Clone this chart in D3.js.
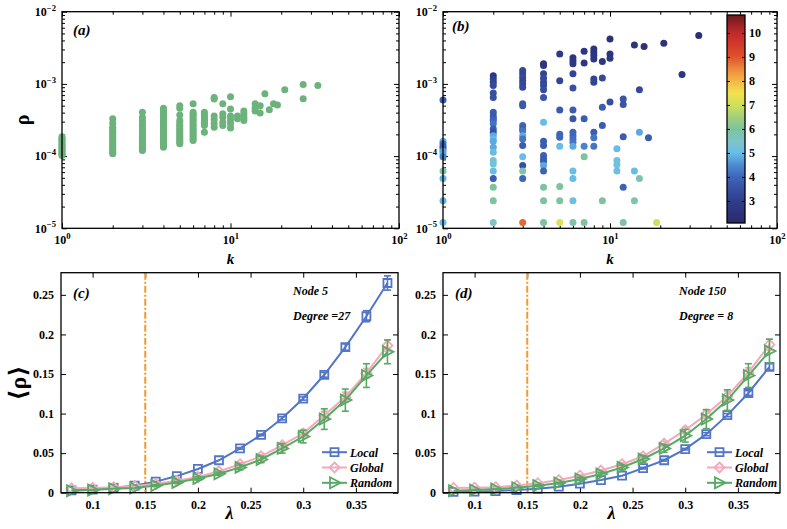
<!DOCTYPE html>
<html>
<head>
<meta charset="utf-8">
<script src="https://cdn.jsdelivr.net/npm/d3@7"></script>
<style>
  body { margin: 0; background: #fff; }
  svg text { font-family: "Liberation Serif", "DejaVu Serif", serif; font-weight: bold; }
</style>
</head>
<body>
<script>
// ---- panel (a): rho against degree k
const aDegrees = [1, 2, 3, 4, 5, 6, 7, 8, 9, 10, 11, 12, 14, 15, 16, 17, 18, 19, 21, 27, 33];
const aRho = [
  [1.02e-4, 1.06e-4, 1.1e-4, 1.15e-4, 1.2e-4, 1.26e-4, 1.32e-4, 1.38e-4, 1.45e-4, 1.52e-4, 1.6e-4, 1.68e-4, 1.76e-4, 1.85e-4],
  [1.08e-4, 1.13e-4, 1.19e-4, 1.25e-4, 1.32e-4, 1.4e-4, 1.48e-4, 1.57e-4, 1.66e-4, 1.76e-4, 1.87e-4, 2.0e-4, 2.12e-4, 2.25e-4, 2.38e-4, 2.5e-4, 2.85e-4, 3.3e-4],
  [1.2e-4, 1.26e-4, 1.33e-4, 1.4e-4, 1.48e-4, 1.56e-4, 1.65e-4, 1.75e-4, 1.86e-4, 1.98e-4, 2.1e-4, 2.24e-4, 2.38e-4, 2.54e-4, 2.7e-4, 2.9e-4, 3.1e-4, 3.45e-4, 4.05e-4],
  [1.33e-4, 1.4e-4, 1.48e-4, 1.56e-4, 1.65e-4, 1.75e-4, 1.86e-4, 1.98e-4, 2.1e-4, 2.24e-4, 2.38e-4, 2.54e-4, 2.7e-4, 2.9e-4, 3.1e-4, 3.3e-4, 3.55e-4, 3.8e-4, 4.1e-4, 4.35e-4, 4.6e-4],
  [1.48e-4, 1.56e-4, 1.65e-4, 1.75e-4, 1.86e-4, 1.98e-4, 2.1e-4, 2.24e-4, 2.38e-4, 2.54e-4, 2.7e-4, 2.9e-4, 3.1e-4, 3.7e-4, 4.6e-4, 5.0e-4],
  [1.64e-4, 1.74e-4, 1.85e-4, 1.97e-4, 2.1e-4, 2.24e-4, 2.38e-4, 2.54e-4, 2.7e-4, 2.9e-4, 3.1e-4, 3.3e-4, 3.55e-4, 3.8e-4, 4.05e-4, 5.3e-4],
  [2.14e-4, 2.65e-4, 2.8e-4, 2.95e-4, 3.1e-4, 3.3e-4, 3.5e-4, 3.75e-4, 4.05e-4],
  [2.5e-4, 2.8e-4, 3.2e-4, 3.6e-4, 6.2e-4, 6.5e-4],
  [2.65e-4, 2.95e-4, 3.45e-4, 3.85e-4, 5.3e-4],
  [2.45e-4, 2.8e-4, 3.15e-4, 3.6e-4, 4.5e-4, 6.65e-4],
  [3.3e-4, 3.6e-4],
  [3.1e-4, 3.35e-4, 3.6e-4, 3.9e-4, 4.2e-4],
  [4.2e-4, 4.6e-4, 5.3e-4],
  [3.95e-4, 5.0e-4],
  [7.3e-4],
  [4.4e-4],
  [5.3e-4],
  [5.1e-4],
  [8.3e-4],
  [6.25e-4, 9.8e-4],
  [9.5e-4]
];

// ---- panel (b): same axes, points coloured by a value (colorbar 3..10)
const bDegrees = [1, 2, 3, 4, 5, 6, 7, 8, 9, 10, 11, 12, 14, 15, 16, 17, 19, 21, 27, 34];
const bRho = [
  [6.0e-4, 1.6e-4, 1.48e-4, 1.36e-4, 1.26e-4, 1.17e-4, 1.07e-4, 9.8e-5, 6.2e-5, 4.9e-5, 2.4e-5, 1.2e-5],
  [1.3e-3, 1.17e-3, 1.05e-3, 9.5e-4, 7.5e-4, 6.5e-4, 4.05e-4, 3.6e-4, 3.3e-4, 3.1e-4, 2.8e-4, 2.38e-4, 2.14e-4, 1.92e-4, 1.73e-4, 1.6e-4, 1.33e-4, 1.13e-4, 8.7e-5, 7.8e-5, 6.2e-5, 4.9e-5, 3.7e-5, 2.4e-5, 1.2e-5],
  [1.53e-3, 1.38e-3, 1.24e-3, 1.11e-3, 1.0e-3, 9.0e-4, 5.3e-4, 5.0e-4, 2.65e-4, 2.38e-4, 2.25e-4, 1.92e-4, 1.73e-4, 1.4e-4, 9.8e-5, 7.4e-5, 6.2e-5, 4.9e-5, 1.2e-5],
  [1.9e-3, 1.8e-3, 1.38e-3, 1.2e-3, 1.05e-3, 9.5e-4, 8.3e-4, 6.5e-4, 2.94e-4, 1.6e-4, 1.4e-4, 1.02e-4, 9.1e-5, 8.5e-5, 7.4e-5, 6.2e-5, 3.7e-5, 2.4e-5, 1.2e-5],
  [2.6e-3, 1.11e-3, 4.36e-4, 2.0e-4, 1.82e-4, 1.37e-4, 3.8e-5, 2.4e-5, 1.2e-5],
  [2.3e-3, 2.1e-3, 1.9e-3, 1.38e-3, 8.8e-4, 4.36e-4, 3.3e-4, 2.14e-4, 1.92e-4, 1.73e-4, 1.56e-4, 1.37e-4, 6.2e-5, 4.9e-5, 2.4e-5, 1.2e-5],
  [2.84e-3, 1.95e-3, 3.3e-4, 1.37e-4, 9.8e-5, 1.2e-5],
  [3.05e-3, 2.75e-3, 2.47e-3, 2.22e-3, 1.17e-3, 1.05e-3, 2.14e-4, 1.8e-4, 1.37e-4],
  [2.04e-3, 1.21e-3, 4.75e-4, 2.65e-4, 2.4e-5],
  [4.2e-3, 2.6e-3, 2.27e-3, 5.6e-4],
  [1.26e-4, 8.7e-5, 7.6e-5, 6.2e-5],
  [6.2e-4, 5.2e-4, 1.86e-4, 3.7e-5, 1.2e-5],
  [3.46e-3, 6.2e-5, 2.4e-5],
  [8.3e-4, 2.14e-4, 4.9e-5],
  [3.3e-3],
  [1.79e-4],
  [1.2e-5],
  [3.66e-3],
  [1.35e-3],
  [4.68e-3]
];
const bValue = [
  [3.8, 4.9, 4.1, 3.8, 3.9, 4.7, 4.8, 4.3, 5.9, 4.9, 4.9, 5.0],
  [2.7, 3.0, 3.2, 3.3, 3.5, 3.5, 3.8, 3.7, 3.8, 4.0, 4.2, 3.8, 3.5, 4.8, 5.0, 4.8, 4.8, 5.0, 5.3, 5.3, 5.0, 3.8, 6.0, 6.0, 5.6],
  [3.3, 3.2, 3.3, 3.2, 3.3, 3.3, 3.7, 3.7, 4.0, 3.8, 4.2, 4.8, 4.2, 3.8, 5.0, 3.5, 5.8, 4.0, 8.8],
  [2.6, 2.7, 3.2, 3.3, 3.3, 3.3, 3.4, 3.6, 5.0, 3.8, 3.8, 3.9, 3.8, 3.8, 4.8, 3.9, 6.0, 6.0, 6.0],
  [2.8, 3.2, 3.7, 4.0, 4.0, 5.0, 6.0, 6.0, 7.2],
  [2.7, 2.7, 2.8, 3.2, 3.5, 3.8, 3.6, 4.0, 4.0, 4.1, 4.2, 4.8, 5.0, 5.0, 5.1, 5.8],
  [2.7, 2.7, 3.8, 4.4, 6.0, 6.0],
  [2.7, 2.6, 2.7, 2.7, 3.2, 3.2, 3.8, 4.2, 4.2],
  [2.7, 3.3, 3.8, 3.8, 6.0],
  [2.4, 2.7, 2.7, 3.4],
  [5.0, 5.2, 5.2, 5.1],
  [3.6, 3.6, 3.8, 3.9, 6.0],
  [2.6, 5.0, 5.8],
  [3.3, 4.8, 5.8],
  [2.5],
  [3.8],
  [7.0],
  [2.5],
  [2.7],
  [2.3]
];
const colorbarTicks = [3, 4, 5, 6, 7, 8, 9, 10];

// ---- panels (c) and (d): <rho> against lambda
const lambdas = [0.08, 0.10, 0.12, 0.14, 0.16, 0.18, 0.20, 0.22, 0.24, 0.26, 0.28, 0.30, 0.32, 0.34, 0.36, 0.38];
const lambdaTicks = [0.1, 0.15, 0.2, 0.25, 0.3, 0.35];
const rhoTicks = [0, 0.05, 0.1, 0.15, 0.2, 0.25];
const threshold = 0.15;

const cLocal = [0.003, 0.004, 0.006, 0.009, 0.014, 0.021, 0.030, 0.041, 0.056, 0.073, 0.094, 0.119, 0.149, 0.184, 0.223, 0.265];
const cLocalErr = [0, 0, 0, 0, 0, 0, 0, 0, 0.001, 0.001, 0.002, 0.002, 0.003, 0.004, 0.007, 0.009];
const cGlobal = [0.0055, 0.006, 0.007, 0.0085, 0.011, 0.015, 0.020, 0.027, 0.036, 0.046, 0.060, 0.075, 0.098, 0.121, 0.151, 0.186];
const cGlobalErr = [0, 0, 0, 0, 0, 0, 0.001, 0.001, 0.002, 0.002, 0.003, 0.004, 0.005, 0.006, 0.006, 0.007];
const cRandom = [0.0025, 0.0035, 0.005, 0.006, 0.009, 0.013, 0.018, 0.024, 0.032, 0.042, 0.056, 0.071, 0.093, 0.117, 0.148, 0.178];
const cRandomErr = [0, 0, 0, 0, 0.001, 0.001, 0.002, 0.002, 0.003, 0.004, 0.006, 0.008, 0.013, 0.014, 0.015, 0.015];

const dLocal = [0.001, 0.0013, 0.002, 0.0034, 0.005, 0.0076, 0.0114, 0.016, 0.0215, 0.031, 0.041, 0.055, 0.074, 0.098, 0.126, 0.159];
const dLocalErr = [0, 0, 0, 0, 0, 0, 0, 0, 0, 0.001, 0.001, 0.001, 0.002, 0.002, 0.003, 0.004];
const dGlobal = [0.006, 0.0063, 0.007, 0.009, 0.012, 0.016, 0.0215, 0.028, 0.036, 0.046, 0.062, 0.079, 0.099, 0.122, 0.152, 0.187];
const dGlobalErr = [0, 0, 0, 0, 0, 0, 0.001, 0.001, 0.002, 0.002, 0.003, 0.004, 0.005, 0.006, 0.006, 0.007];
const dRandom = [0.0025, 0.0034, 0.0046, 0.0063, 0.0089, 0.0122, 0.0173, 0.0236, 0.032, 0.0426, 0.056, 0.072, 0.093, 0.117, 0.148, 0.179];
const dRandomErr = [0, 0, 0, 0, 0.001, 0.001, 0.002, 0.002, 0.003, 0.004, 0.005, 0.008, 0.012, 0.013, 0.015, 0.015];

const seriesNames = ['Local', 'Global', 'Random'];

// ---------------------------------------------------------------
const colors = { local: '#5275c8', global: '#f2aabb', random: '#58a963', dots: '#6cb27b', dash: '#f39a2a' };
const markers = {
  Local: 'M-4,-4H4V4H-4Z',
  Global: 'M0,-5L5,0L0,5L-5,0Z',
  Random: 'M-4.5,-5.5L6,0L-4.5,5.5Z'
};

var svg = d3.select('body').append('svg')
  .attr('width', 787)
  .attr('height', 529);

function AddAxis(g, axis, transform, values, size, labelled, pad) {
  var a = g.append('g')
    .attr('transform', transform)
    .call(axis.tickValues(values).tickSizeInner(-size).tickSizeOuter(0).tickPadding(pad || 6));
  a.select('.domain').remove();
  a.selectAll('line').attr('stroke', '#000').attr('stroke-width', 1);
  a.attr('font-family', null).attr('font-size', 12);
  a.selectAll('text').attr('fill', '#000');
  if (!labelled) a.selectAll('text').remove();
  return a;
}

function PowerLabels(a) {
  a.selectAll('text').each(function(d) {
    var p = Math.round(Math.log10(d));
    var t = d3.select(this).text('');
    t.append('tspan').text('10');
    t.append('tspan')
      .attr('dy', '-0.6em')
      .attr('font-size', '0.72em')
      .text(p < 0 ? '\u2212' + (-p) : String(p));
  });
}

function Frame(g, w, h) {
  g.append('rect')
    .attr('width', w)
    .attr('height', h)
    .attr('fill', 'none')
    .attr('stroke', '#000')
    .attr('stroke-width', 1.3);
}

function LogPanel(left, top, w, h) {
  var g = svg.append('g').attr('transform', 'translate(' + left + ',' + top + ')');
  var x = d3.scaleLog().domain([1, 100]).range([0, w]);
  var y = d3.scaleLog().domain([1e-5, 1e-2]).range([h, 0]);
  var isMajor = (d) => Math.abs(Math.log10(d) - Math.round(Math.log10(d))) < 1e-9;
  var xMajor = x.ticks().filter(isMajor), xMinor = x.ticks().filter((d) => !isMajor(d));
  var yMajor = y.ticks().filter(isMajor), yMinor = y.ticks().filter((d) => !isMajor(d));

  PowerLabels(AddAxis(g, d3.axisBottom(x), 'translate(0,' + h + ')', xMajor, 5, true, 7));
  AddAxis(g, d3.axisBottom(x), 'translate(0,' + h + ')', xMinor, 3, false);
  AddAxis(g, d3.axisTop(x), 'translate(0,0)', xMajor, 5, false);
  AddAxis(g, d3.axisTop(x), 'translate(0,0)', xMinor, 3, false);
  PowerLabels(AddAxis(g, d3.axisLeft(y), 'translate(0,0)', yMajor, 5, true, 6));
  AddAxis(g, d3.axisLeft(y), 'translate(0,0)', yMinor, 3, false);
  AddAxis(g, d3.axisRight(y), 'translate(' + w + ',0)', yMajor, 5, false);
  AddAxis(g, d3.axisRight(y), 'translate(' + w + ',0)', yMinor, 3, false);

  g.append('text')
    .attr('x', w / 2)
    .attr('y', h + 36)
    .attr('text-anchor', 'middle')
    .attr('font-style', 'italic')
    .attr('font-size', 15)
    .text('k');

  return { g: g, x: x, y: y, w: w, h: h };
}

function LinearPanel(left, top, w, h) {
  var g = svg.append('g').attr('transform', 'translate(' + left + ',' + top + ')');
  var x = d3.scaleLinear().domain([0.07, 0.39]).range([0, w]);
  var y = d3.scaleLinear().domain([0, 0.278]).range([h, 0]);
  var fmt = (d) => String(d);

  AddAxis(g, d3.axisBottom(x).tickFormat(fmt), 'translate(0,' + h + ')', lambdaTicks, 5, true, 8);
  AddAxis(g, d3.axisTop(x), 'translate(0,0)', lambdaTicks, 5, false);
  AddAxis(g, d3.axisLeft(y).tickFormat(fmt), 'translate(0,0)', rhoTicks, 5, true, 7);
  AddAxis(g, d3.axisRight(y), 'translate(' + w + ',0)', rhoTicks, 5, false);

  g.append('text')
    .attr('x', w / 2)
    .attr('y', h + 26)
    .attr('text-anchor', 'middle')
    .attr('font-style', 'italic')
    .attr('font-size', 18)
    .text('\u03bb');

  return { g: g, x: x, y: y, w: w, h: h };
}

function PanelLabel(g, x, y, text) {
  g.append('text')
    .attr('x', x)
    .attr('y', y)
    .attr('font-style', 'italic')
    .attr('font-size', 15)
    .text(text);
}

// ---- (a)
var pa = LogPanel(62, 11.7, 337, 216.6);
aDegrees.forEach(function(k, i) {
  pa.g.append('g')
    .selectAll('circle')
    .data(aRho[i])
    .enter()
    .append('circle')
      .attr('cx', pa.x(k))
      .attr('cy', (d) => pa.y(d))
      .attr('r', 3.5)
      .attr('fill', colors.dots);
});
Frame(pa.g, pa.w, pa.h);
PanelLabel(pa.g, 11, 23, '(a)');
svg.append('text')
  .attr('transform', 'translate(29,120) rotate(-90)')
  .attr('text-anchor', 'middle')
  .attr('font-size', 20)
  .text('\u03c1');

// ---- (b)
var cbMin = 2.08, cbMax = 10.75;
var colorStops = [
  [2.08, '#2a2a6a'], [3.0, '#2f3d8c'], [4.0, '#3e65b8'], [4.5, '#4b8cd2'], [5.0, '#68bde8'],
  [5.5, '#7ec5cb'], [6.0, '#7dc39c'], [6.5, '#a2d07a'], [7.0, '#cfe05a'], [7.5, '#f1e24d'],
  [8.0, '#f3b747'], [8.5, '#ee8a3b'], [9.0, '#e0522c'], [9.5, '#d43a2b'], [10.0, '#c02a2a'], [10.75, '#6c1a1d']
];
var colorScale = d3.scaleLinear()
  .domain(colorStops.map((d) => d[0]))
  .range(colorStops.map((d) => d[1]))
  .clamp(true);

var pb = LogPanel(443, 11.7, 334, 216.6);
bDegrees.forEach(function(k, i) {
  pb.g.append('g')
    .selectAll('circle')
    .data(bRho[i].map((r, j) => ({ rho: r, v: bValue[i][j] })))
    .enter()
    .append('circle')
      .attr('cx', pb.x(k))
      .attr('cy', (d) => pb.y(d.rho))
      .attr('r', 3.5)
      .attr('fill', (d) => colorScale(d.v));
});
Frame(pb.g, pb.w, pb.h);
PanelLabel(pb.g, 9, 19, '(b)');

// colorbar
var cbW = 18, cbH = 208;
var cb = svg.append('g').attr('transform', 'translate(727,15)');
var grad = svg.append('defs')
  .append('linearGradient')
    .attr('id', 'cbGrad')
    .attr('x1', 0).attr('y1', 1)
    .attr('x2', 0).attr('y2', 0);
grad.selectAll('stop')
  .data(colorStops)
  .enter()
  .append('stop')
    .attr('offset', (d) => (d[0] - cbMin) / (cbMax - cbMin))
    .attr('stop-color', (d) => d[1]);
cb.append('rect')
  .attr('width', cbW)
  .attr('height', cbH)
  .attr('fill', 'url(#cbGrad)');
var cbScale = d3.scaleLinear().domain([cbMin, cbMax]).range([cbH, 0]);
AddAxis(cb, d3.axisRight(cbScale), 'translate(' + cbW + ',0)', colorbarTicks, 3, true, 4);
AddAxis(cb, d3.axisLeft(cbScale), 'translate(0,0)', colorbarTicks, 3, false);
Frame(cb, cbW, cbH);

// ---- (c) and (d)
function DrawSeries(p, name, values, errors, color) {
  var pts = values.map((v, i) => ({ l: lambdas[i], v: v, e: errors[i] }));
  var line = d3.line().x((d) => p.x(d.l)).y((d) => p.y(d.v));
  var g = p.g.append('g');
  g.append('path')
    .datum(pts)
    .attr('d', line)
    .attr('fill', 'none')
    .attr('stroke', color)
    .attr('stroke-width', 2);

  var bars = g.selectAll('g.err')
    .data(pts.filter((d) => d.e > 0))
    .enter()
    .append('g')
      .attr('class', 'err')
      .attr('stroke', color)
      .attr('stroke-width', 1.6);
  bars.append('line')
    .attr('x1', (d) => p.x(d.l)).attr('x2', (d) => p.x(d.l))
    .attr('y1', (d) => p.y(d.v - d.e)).attr('y2', (d) => p.y(d.v + d.e));
  bars.append('line')
    .attr('x1', (d) => p.x(d.l) - 3.5).attr('x2', (d) => p.x(d.l) + 3.5)
    .attr('y1', (d) => p.y(d.v + d.e)).attr('y2', (d) => p.y(d.v + d.e));
  bars.append('line')
    .attr('x1', (d) => p.x(d.l) - 3.5).attr('x2', (d) => p.x(d.l) + 3.5)
    .attr('y1', (d) => p.y(d.v - d.e)).attr('y2', (d) => p.y(d.v - d.e));

  g.selectAll('path.mk')
    .data(pts)
    .enter()
    .append('path')
      .attr('class', 'mk')
      .attr('d', markers[name])
      .attr('transform', (d) => 'translate(' + p.x(d.l) + ',' + p.y(d.v) + ')')
      .attr('fill', 'none')
      .attr('stroke', color)
      .attr('stroke-width', 1.8);
}

function Legend(p, x0, y0) {
  var cols = [colors.local, colors.global, colors.random];
  var rows = p.g.append('g')
    .attr('transform', 'translate(' + x0 + ',' + y0 + ')')
    .selectAll('g')
    .data(seriesNames)
    .enter()
    .append('g')
      .attr('transform', (d, i) => 'translate(0,' + i * 15.3 + ')');
  rows.append('line')
    .attr('x1', 0).attr('x2', 25)
    .attr('stroke', (d, i) => cols[i])
    .attr('stroke-width', 2);
  rows.append('path')
    .attr('d', (d) => markers[d])
    .attr('transform', 'translate(12.5,0)')
    .attr('fill', 'none')
    .attr('stroke', (d, i) => cols[i])
    .attr('stroke-width', 1.8);
  rows.append('text')
    .attr('x', 28)
    .attr('y', 4.5)
    .attr('font-style', 'italic')
    .attr('font-size', 12)
    .text((d) => d);
}

function LambdaPanel(left, label, local, localErr, global, globalErr, random, randomErr, node, degree, nodeX, legendX) {
  var p = LinearPanel(left, 272.7, 337, 220);
  p.g.append('line')
    .attr('x1', p.x(threshold)).attr('x2', p.x(threshold))
    .attr('y1', 0).attr('y2', p.h)
    .attr('stroke', colors.dash)
    .attr('stroke-width', 2)
    .attr('stroke-dasharray', '7,2,2,2');
  DrawSeries(p, 'Local', local, localErr, colors.local);
  DrawSeries(p, 'Global', global, globalErr, colors.global);
  DrawSeries(p, 'Random', random, randomErr, colors.random);
  Frame(p.g, p.w, p.h);
  PanelLabel(p.g, label === '(c)' ? 12 : 12, 25, label);
  p.g.append('text')
    .attr('x', nodeX).attr('y', 22)
    .attr('font-style', 'italic').attr('font-size', 12)
    .text(node);
  p.g.append('text')
    .attr('x', nodeX).attr('y', 47.5)
    .attr('font-style', 'italic').attr('font-size', 12)
    .text(degree);
  Legend(p, legendX, 179.5);
  return p;
}

LambdaPanel(61, '(c)', cLocal, cLocalErr, cGlobal, cGlobalErr, cRandom, cRandomErr, 'Node 5', 'Degree =27', 232, 261);
LambdaPanel(443, '(d)', dLocal, dLocalErr, dGlobal, dGlobalErr, dRandom, dRandomErr, 'Node 150', 'Degree = 8', 236, 264);

svg.append('text')
  .attr('transform', 'translate(26,383) rotate(-90)')
  .attr('text-anchor', 'middle')
  .attr('font-size', 24)
  .text('\u27e8\u03c1\u27e9');
</script>
</body>
</html>
